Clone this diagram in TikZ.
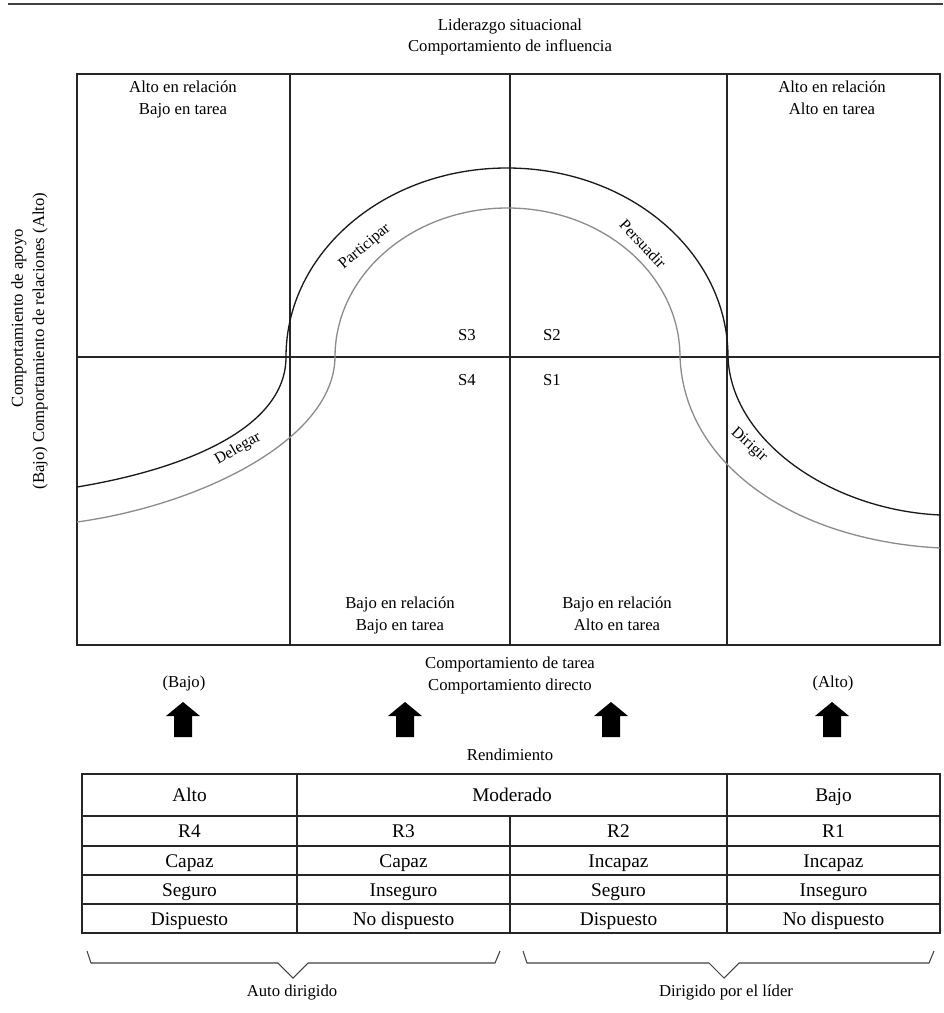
\documentclass[tikz,border=0pt]{standalone}
\usepackage{fontspec}
\setmainfont{Liberation Serif}
\usetikzlibrary{positioning}

\begin{document}
\begin{tikzpicture}[x=0.02cm,y=-0.02cm,semithick,font=\fontsize{9.5}{12.5}\selectfont]
 \tikzstyle{lbl}=[align=center,inner sep=1pt]
 \tikzstyle{cell}=[inner sep=1pt,anchor=base,font=\fontsize{11}{13}\selectfont]
 \tikzstyle{curvelbl}=[inner sep=1pt,font=\fontsize{9}{11}\selectfont]
 \tikzstyle{frame}=[draw=black!85,line width=0.8pt]
 \useasboundingbox (0,0) rectangle (943,1013);

 % top rule and title
 \draw[line width=1.1pt,black!75] (8,4) -- (943,4);
 \node[lbl] (title) at (510,37) {Liderazgo situacional\\Comportamiento de influencia};

 % quadrants
 \draw[frame] (77,74) rectangle (940,645);
 \draw[frame] (290,74) -- (290,645);
 \draw[frame] (510,74) -- (510,645);
 \draw[frame] (727,74) -- (727,645);
 \draw[frame] (77,357) -- (940,357);

 \node[lbl,anchor=north] (q4) at (183,79) {Alto en relación\\Bajo en tarea};
 \node[lbl,anchor=north] (q1) at (832,79) {Alto en relación\\Alto en tarea};
 \node[lbl,anchor=north] (q3) at (400,595) {Bajo en relación\\Bajo en tarea};
 \node[lbl,anchor=north] (q2) at (617,595) {Bajo en relación\\Alto en tarea};

 \node[lbl] (s3) at (467,335) {S3};
 \node[lbl] (s2) at (552,335) {S2};
 \node[lbl] (s4) at (467,380) {S4};
 \node[lbl] (s1) at (552,380) {S1};

 % axis label
 \node[lbl,rotate=90] (apoyo) at (19,318) {Comportamiento de apoyo};
 \node[lbl,rotate=90] (relac) at (40,341) {(Bajo) Comportamiento de relaciones (Alto)};

 % style curves
 \draw[black!90,line width=0.75pt] (77,487) .. controls (180,470) and (286,430) .. (286,357)
   .. controls (286,252) and (385,168) .. (507,168)
   .. controls (629,168) and (728,252) .. (728,357)
   .. controls (731,440) and (830,510) .. (940,515);
 \draw[black!45,line width=0.75pt] (77,522) .. controls (200,505) and (334,440) .. (335,357)
   .. controls (335,275) and (412,208) .. (507.5,208)
   .. controls (603,208) and (680,275) .. (680,357)
   .. controls (684,462) and (790,540) .. (940,548);

 \node[curvelbl,rotate=30] (delegar) at (238,449) {Delegar};
 \node[curvelbl,rotate=40] (participar) at (365,247) {Participar};
 \node[curvelbl,rotate=-47] (persuadir) at (643,244) {Persuadir};
 \node[curvelbl,rotate=-42] (dirigir) at (749,445) {Dirigir};

 % task axis
 \node[lbl] (tarea) at (510,675) {Comportamiento de tarea\\Comportamiento directo};
 \node[lbl] (bajo) at (184,683) {(Bajo)};
 \node[lbl] (alto) at (833,683) {(Alto)};

 \foreach \ax in {183,405,611,832}
   \fill (\ax-9,737) -- (\ax-9,716) -- (\ax-17,716) -- (\ax,702) -- (\ax+17,716) -- (\ax+9,716) -- (\ax+9,737) -- cycle;

 \node[lbl] (rend) at (510,755) {Rendimiento};

 % readiness table
 \draw[frame] (82,774) rectangle (940,933);
 \foreach \ry in {816,846,875,904}
   \draw[frame] (82,\ry) -- (940,\ry);
 \draw[frame] (297,774) -- (297,933);
 \draw[frame] (727,774) -- (727,933);
 \draw[frame] (510,816) -- (510,933);

 \node[cell] (hAlto) at (189.5,801.5) {Alto};
 \node[cell] (hMod) at (512,801.5) {Moderado};
 \node[cell] (hBajo) at (833.5,801.5) {Bajo};

 \foreach \cx/\ra/\rb/\rc/\rd in {189.5/R4/Capaz/Seguro/Dispuesto,
     403.5/R3/Capaz/Inseguro/No dispuesto,
     618.5/R2/Incapaz/Seguro/Dispuesto,
     833.5/R1/Incapaz/Inseguro/No dispuesto}{
   \node[cell] at (\cx,837.5) {\ra};
   \node[cell] at (\cx,867) {\rb};
   \node[cell] at (\cx,896) {\rc};
   \node[cell] at (\cx,925) {\rd};
 }

 % braces
 \draw[black!75,line width=0.6pt] (87,951) -- (91,963) -- (278,963) -- (293,978) -- (308,963) -- (495,963) -- (500,951);
 \draw[black!75,line width=0.6pt] (523,951) -- (527,963) -- (709,963) -- (724,978) -- (739,963) -- (929,963) -- (934,951);
 \node[lbl] (auto) at (292,992) {Auto dirigido};
 \node[lbl] (lider) at (726,992) {Dirigido por el líder};
\end{tikzpicture}
\end{document}
